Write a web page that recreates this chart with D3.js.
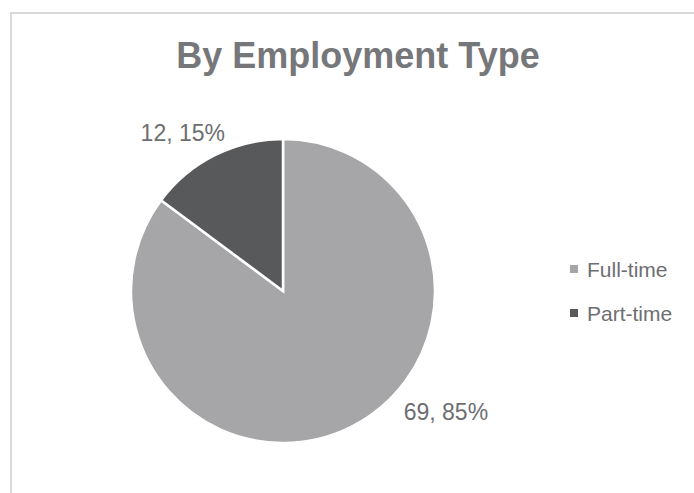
<!DOCTYPE html>
<html>
<head>
<meta charset="utf-8">
<script src="https://cdn.jsdelivr.net/npm/d3@7/dist/d3.min.js"></script>
<style>
  html, body { margin: 0; padding: 0; background: #ffffff; }
  svg { display: block; }
</style>
</head>
<body>
<div id="chart"></div>
<script>
// ---- data ----
const title = "By Employment Type";
const categories = ["Full-time", "Part-time"];
const values = [69, 12];
const percents = ["85%", "15%"];
const colors = ["#a6a6a8", "#58595b"];

// ---- layout ----
const W = 694, H = 493;
const cx = 283, cy = 291, R = 152;

const svg = d3.select("#chart").append("svg")
  .attr("width", W).attr("height", H);

svg.append("rect")
  .attr("x", 11).attr("y", 13)
  .attr("width", W + 20).attr("height", H + 20)
  .attr("fill", "#ffffff")
  .attr("stroke", "#d9d9d9").attr("stroke-width", 2);

svg.append("text")
  .attr("x", 358).attr("y", 68)
  .attr("text-anchor", "middle")
  .attr("font-family", "'Liberation Sans', Arial, Helvetica, sans-serif")
  .attr("font-weight", "bold")
  .attr("font-size", 36)
  .attr("fill", "#76777a")
  .text(title);

const data = categories.map((c, i) => ({ cat: c, value: values[i], pct: percents[i], color: colors[i] }));

const pie = d3.pie().sort(null).value(d => d.value);
const arcs = pie(data);
const arc = d3.arc().innerRadius(0).outerRadius(R);

const g = svg.append("g").attr("transform", `translate(${cx},${cy})`);
g.selectAll("path").data(arcs).join("path")
  .attr("d", arc)
  .attr("fill", d => d.data.color)
  .attr("stroke", "#ffffff")
  .attr("stroke-width", 2.5)
  .attr("stroke-linejoin", "miter");

// data labels (best-fit style, outside the pie)
const labelStyle = [
  { angleShift: -0.466, radius: 203 },  // Full-time
  { angleShift: -0.10, radius: 187 }    // Part-time
];
g.selectAll("text.lbl").data(arcs).join("text")
  .attr("class", "lbl")
  .attr("x", (d, i) => {
    const a = (d.startAngle + d.endAngle) / 2 + labelStyle[i].angleShift;
    return Math.sin(a) * labelStyle[i].radius;
  })
  .attr("y", (d, i) => {
    const a = (d.startAngle + d.endAngle) / 2 + labelStyle[i].angleShift;
    return -Math.cos(a) * labelStyle[i].radius;
  })
  .attr("dy", "0.36em")
  .attr("text-anchor", "middle")
  .attr("font-family", "'Liberation Sans', Arial, Helvetica, sans-serif")
  .attr("font-size", 23)
  .attr("fill", "#6d6e71")
  .text(d => `${d.data.value}, ${d.data.pct}`);

// legend
const legend = svg.append("g").attr("transform", "translate(570,269)");
const lg = legend.selectAll("g").data(data).join("g")
  .attr("transform", (d, i) => `translate(0,${i * 44})`);
lg.append("rect")
  .attr("x", 0).attr("y", -4).attr("width", 8).attr("height", 8)
  .attr("fill", d => d.color);
lg.append("text")
  .attr("x", 17).attr("y", 0).attr("dy", "0.36em")
  .attr("font-family", "'Liberation Sans', Arial, Helvetica, sans-serif")
  .attr("font-size", 21)
  .attr("fill", "#6d6e71")
  .text(d => d.cat);
</script>
</body>
</html>
